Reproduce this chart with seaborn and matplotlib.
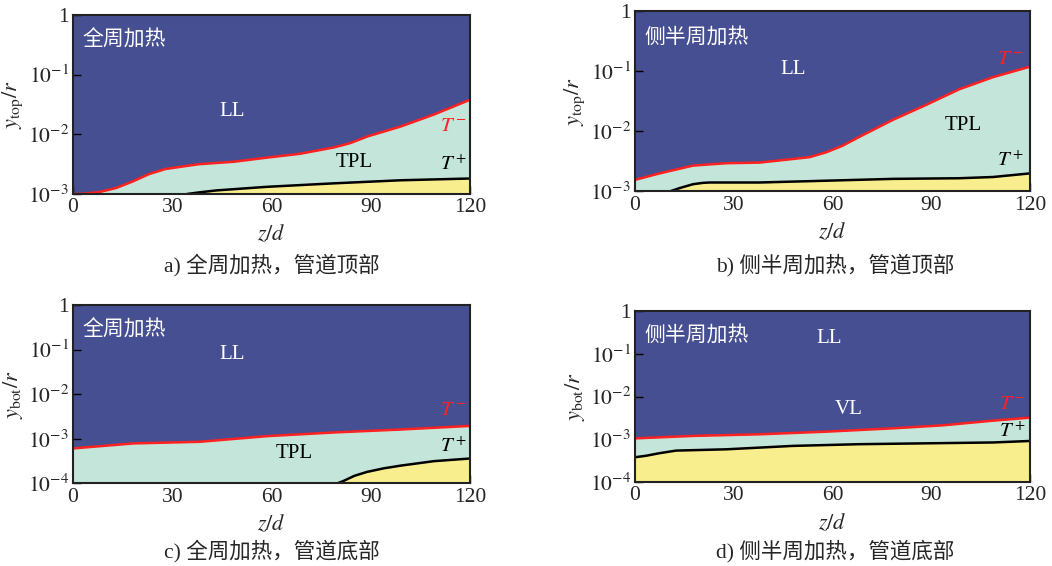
import matplotlib
matplotlib.use('Agg')
import matplotlib.pyplot as plt
import seaborn as sns
import numpy as np

# 数据: 各工况的 T- (红线) 与 T+ (黑线) 边界
z_a_red = [0, 3, 8, 13, 18, 23, 28, 38, 48.5, 58.6, 68.7, 78.8, 83.8, 89, 99, 109, 120]
y_a_red = [1.0e-3, 1.01e-3, 1.08e-3, 1.26e-3, 1.62e-3, 2.16e-3, 2.63e-3, 3.16e-3, 3.47e-3,
           4.07e-3, 4.73e-3, 6.03e-3, 7.13e-3, 9.23e-3, 1.35e-2, 2.14e-2, 3.80e-2]
z_a_blk = [34.4, 38.4, 43.4, 58.6, 78.8, 99, 120]
y_a_blk = [1.0e-3, 1.07e-3, 1.15e-3, 1.32e-3, 1.51e-3, 1.70e-3, 1.82e-3]

z_b_red = [0, 7.5, 17.6, 27.7, 37.8, 48, 53, 58, 63, 68.2, 78.3, 88.4, 98.5, 108.7, 120]
y_b_red = [1.56e-3, 2.0e-3, 2.69e-3, 2.95e-3, 3.02e-3, 3.47e-3, 3.72e-3, 4.47e-3,
           5.75e-3, 8.13e-3, 1.55e-2, 2.75e-2, 5.01e-2, 7.94e-2, 0.119]
z_b_blk = [10.5, 13.6, 17.6, 20.6, 22.7, 37.8, 58, 78.3, 98.5, 108.7, 120]
y_b_blk = [1.0e-3, 1.14e-3, 1.32e-3, 1.39e-3, 1.41e-3, 1.41e-3, 1.51e-3, 1.62e-3,
           1.66e-3, 1.74e-3, 2.0e-3]

z_c_red = [0, 18.2, 38.4, 58.6, 78.8, 99, 120]
y_c_red = [6.1e-4, 7.9e-4, 8.6e-4, 1.15e-3, 1.39e-3, 1.62e-3, 1.95e-3]
z_c_blk = [79.8, 81.9, 85, 88.9, 94, 99, 109, 120]
y_c_blk = [1.0e-4, 1.15e-4, 1.48e-4, 1.82e-4, 2.19e-4, 2.51e-4, 3.16e-4, 3.63e-4]

z_d_red = [0, 17.6, 37.8, 58, 78.3, 93.5, 108.7, 120]
y_d_red = [1.06e-3, 1.21e-3, 1.32e-3, 1.52e-3, 1.82e-3, 2.14e-3, 2.75e-3, 3.24e-3]
z_d_blk = [0, 3.4, 7.5, 12.5, 27.7, 48, 68.2, 88.4, 108.7, 120]
y_d_blk = [3.84e-4, 4.17e-4, 4.79e-4, 5.50e-4, 5.89e-4, 7.08e-4, 7.76e-4, 8.13e-4,
           8.51e-4, 9.23e-4]

x_ticks = [0, 30, 60, 90, 120]

C_BLUE = '#464f92'
C_TEAL = '#c3e5da'
C_YEL = '#f8ee8e'
C_RED = '#ff2020'

sns.set_style('ticks')
plt.rcParams['font.family'] = ['Liberation Serif', 'Noto Sans CJK SC']
plt.rcParams['mathtext.fontset'] = 'stix'

fig = plt.figure(figsize=(10.52, 5.66), dpi=100)

CJK = ['Noto Sans CJK SC']
MIX = ['Liberation Serif', 'Noto Sans CJK SC']


def draw_panel(ax, z_red, y_red, z_blk, y_blk, ymin, ylab, heat, labels):
    ax.set_facecolor(C_BLUE)
    ax.set_yscale('log')
    ax.set_xlim(0, 120)
    ax.set_ylim(ymin, 1)
    ax.fill_between(z_red, y_red, ymin, color=C_TEAL, lw=0, zorder=1)
    ax.fill_between(z_blk, y_blk, ymin, color=C_YEL, lw=0, zorder=2)
    sns.lineplot(x=z_red, y=y_red, ax=ax, color=C_RED, lw=1.8, estimator=None, zorder=3)
    sns.lineplot(x=z_blk, y=y_blk, ax=ax, color='black', lw=1.8, estimator=None, zorder=3)

    yt = [10.0 ** k for k in range(int(round(np.log10(ymin))), 1)]
    ax.set_yticks(yt)
    ax.set_yticklabels([r'$10^{%d}$' % int(round(np.log10(v))) if v < 1 else '1' for v in yt])
    ax.yaxis.set_minor_locator(matplotlib.ticker.NullLocator())
    ax.set_xticks(x_ticks)
    ax.set_xticklabels([str(v) for v in x_ticks])
    ax.tick_params(direction='in', length=6, width=1, labelsize=15.5, pad=3,
                   color='black', top=False, right=False)
    for ax_tick in ax.get_xticklines() + ax.get_yticklines():
        ax_tick.set_zorder(5)
    for sp in ax.spines.values():
        sp.set_linewidth(1.5)
        sp.set_color('#222222')
        sp.set_zorder(6)

    ax.set_xlabel(r'$z/d$', fontsize=16, labelpad=5)
    ax.set_ylabel(ylab, fontsize=16, labelpad=2)

    ax.text(0.025, 0.86, heat, transform=ax.transAxes, color='white',
            fontsize=15, family=CJK, va='center', ha='left')
    for txt, x, y, col in labels:
        ax.text(x, y, txt, color=col, fontsize=15, ha='center', va='center', zorder=4)


ax_a = fig.add_axes([0.0694, 0.6572, 0.3774, 0.3163])
ax_b = fig.add_axes([0.6036, 0.6617, 0.3757, 0.3189])
ax_c = fig.add_axes([0.0694, 0.1458, 0.3774, 0.3153])
ax_d = fig.add_axes([0.6036, 0.1479, 0.3757, 0.3026])

draw_panel(ax_a, z_a_red, y_a_red, z_a_blk, y_a_blk, 1e-3, r'$y_{\rm top}/r$', '全周加热',
           [('LL', 48, 10 ** -1.62, 'white'), ('TPL', 85, 10 ** -2.48, 'black'),
            (r'$T^-$', 115, 10 ** -1.87, C_RED), (r'$T^+$', 115, 10 ** -2.51, 'black')])
draw_panel(ax_b, z_b_red, y_b_red, z_b_blk, y_b_blk, 1e-3, r'$y_{\rm top}/r$', '侧半周加热',
           [('LL', 48, 10 ** -0.98, 'white'), ('TPL', 99.5, 10 ** -1.91, 'black'),
            (r'$T^-$', 114, 10 ** -0.81, C_RED), (r'$T^+$', 114, 10 ** -2.50, 'black')])
draw_panel(ax_c, z_c_red, y_c_red, z_c_blk, y_c_blk, 1e-4, r'$y_{\rm bot}/r$', '全周加热',
           [('LL', 48, 10 ** -1.12, 'white'), ('TPL', 67, 10 ** -3.33, 'black'),
            (r'$T^-$', 115, 10 ** -2.36, C_RED), (r'$T^+$', 115, 10 ** -3.18, 'black')])
draw_panel(ax_d, z_d_red, y_d_red, z_d_blk, y_d_blk, 1e-4, r'$y_{\rm bot}/r$', '侧半周加热',
           [('LL', 59, 10 ** -0.64, 'white'), ('VL', 65, 10 ** -2.31, 'white'),
            (r'$T^-$', 114.7, 10 ** -2.19, C_RED), (r'$T^+$', 114.7, 10 ** -2.82, 'black')])

captions = [('a) 全周加热，管道顶部', 0.258, 0.532),
            ('b) 侧半周加热，管道顶部', 0.794, 0.532),
            ('c) 全周加热，管道底部', 0.258, 0.0265),
            ('d) 侧半周加热，管道底部', 0.794, 0.0265)]
for txt, x, y in captions:
    fig.text(x, y, txt, ha='center', va='center', fontsize=15.5, family=MIX)

fig.savefig('out.png', dpi=100)
